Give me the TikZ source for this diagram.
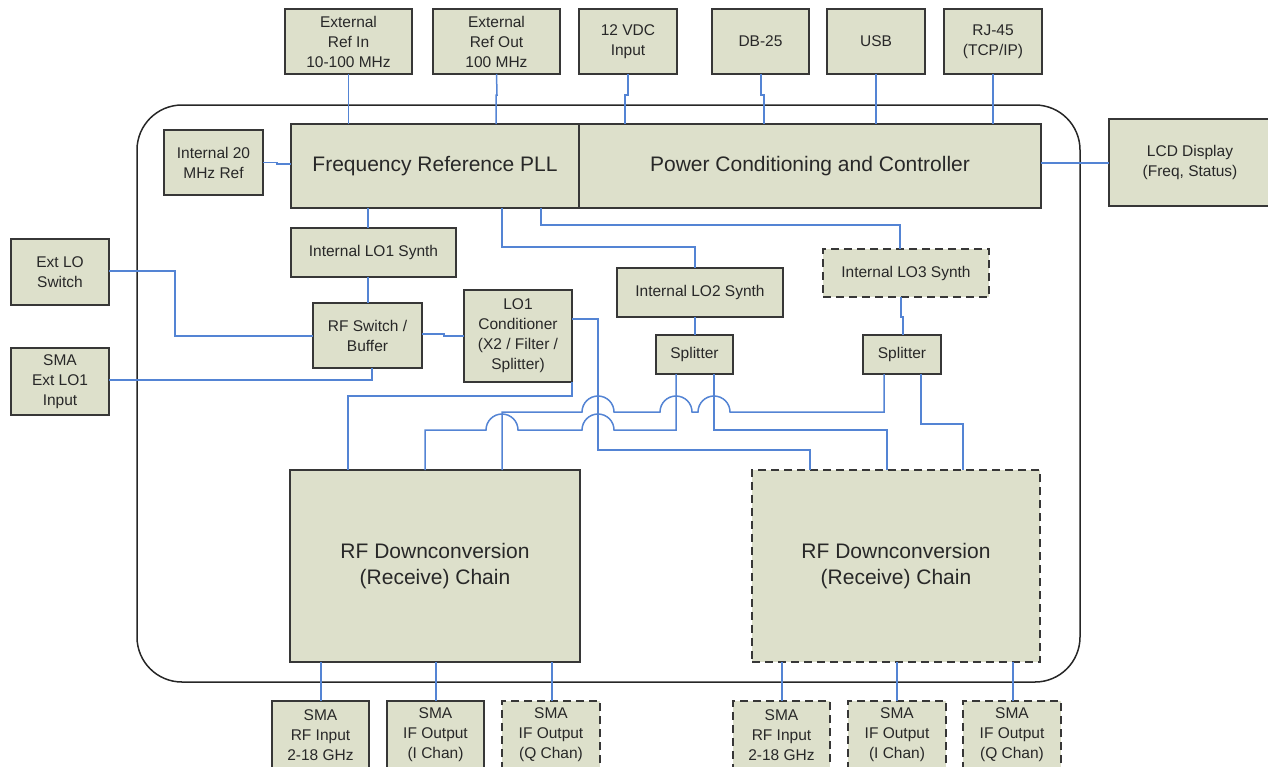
\documentclass[tikz,border=0pt]{standalone}
\usepackage{fontspec}
\setmainfont{Liberation Sans}
\definecolor{boxfill}{RGB}{221,224,203}
\definecolor{boxline}{RGB}{55,55,55}
\definecolor{wireblue}{RGB}{84,132,212}
\definecolor{txt}{RGB}{40,40,40}
\tikzset{
  blk/.style={draw=boxline, fill=boxfill, line width=2pt, inner sep=0pt, outer sep=0pt,
    align=center, text=txt, font=\fontsize{15.5}{20}\selectfont},
  bigblk/.style={blk, font=\fontsize{21}{26}\selectfont},
  dsh/.style={dash pattern=on 8pt off 5pt},
  wire/.style={draw=wireblue, line width=1.5pt},
}
\begin{document}
\begin{tikzpicture}[x=1pt,y=-1pt]
\useasboundingbox (0,0) rectangle (1268,766);
\begin{scope}
\clip (0,0) rectangle (1268,766);
% outer enclosure
\draw[line width=1.5pt, draw=black!85, rounded corners=45pt] (137,105) rectangle (1080,682);

% top connectors
\node[blk, minimum width=127, minimum height=65] (extin) at (348.5,41.5) {External\\Ref In\\10-100 MHz};
\node[blk, minimum width=127, minimum height=65] (extout) at (496.5,41.5) {External\\Ref Out\\100 MHz};
\node[blk, minimum width=98, minimum height=65] (vdc) at (628,41.5) {12 VDC\\Input};
\node[blk, minimum width=97, minimum height=65] (db) at (760.5,41.5) {DB-25};
\node[blk, minimum width=98, minimum height=65] (usb) at (876,41.5) {USB};
\node[blk, minimum width=98, minimum height=65] (rj) at (993,41.5) {RJ-45\\(TCP/IP)};

% main blocks
\node[bigblk, minimum width=288, minimum height=84] (pll) at (435,166) {Frequency Reference PLL};
\node[bigblk, minimum width=462, minimum height=84] (pwr) at (810,166) {Power Conditioning and Controller};
\node[blk, minimum width=99, minimum height=65] (int) at (213.5,162.5) {Internal 20\\MHz Ref};
\node[blk, minimum width=162, minimum height=87] (lcd) at (1190,162.5) {LCD Display\\(Freq, Status)};

\node[blk, minimum width=165, minimum height=49] (lo1) at (373.5,252.5) {Internal LO1 Synth};
\node[blk, minimum width=109, minimum height=65] (rfsw) at (367.5,335.5) {RF Switch /\\Buffer};
\node[blk, minimum width=108, minimum height=92] (lo1c) at (518,336) {LO1\\Conditioner\\(X2 / Filter /\\Splitter)};
\node[blk, minimum width=166, minimum height=49] (lo2) at (700,292.5) {Internal LO2 Synth};
\node[blk, dsh, minimum width=166, minimum height=48] (lo3) at (906,273) {Internal LO3 Synth};
\node[blk, minimum width=77, minimum height=39] (spa) at (694.5,354.5) {Splitter};
\node[blk, minimum width=78, minimum height=39] (spb) at (902,354.5) {Splitter};

\node[blk, minimum width=98, minimum height=66] (extlo) at (60,272) {Ext LO\\Switch};
\node[blk, minimum width=98, minimum height=67] (smalo) at (60,381.5) {SMA\\Ext LO1\\Input};

\node[bigblk, minimum width=290, minimum height=192] (rfa) at (435,566) {RF Downconversion\\(Receive) Chain};
\node[bigblk, dsh, minimum width=288, minimum height=192] (rfb) at (896,566) {RF Downconversion\\(Receive) Chain};

% bottom connectors
\node[blk, minimum width=97, minimum height=68] (rfina) at (320.5,735) {SMA\\RF Input\\2-18 GHz};
\node[blk, minimum width=97, minimum height=68] (ifia) at (435.5,735) {SMA\\IF Output\\(I Chan)};
\node[blk, dsh, minimum width=98, minimum height=68] (ifqa) at (551,735) {SMA\\IF Output\\(Q Chan)};
\node[blk, dsh, minimum width=97, minimum height=68] (rfinb) at (781.5,735) {SMA\\RF Input\\2-18 GHz};
\node[blk, dsh, minimum width=98, minimum height=68] (ifib) at (897,735) {SMA\\IF Output\\(I Chan)};
\node[blk, dsh, minimum width=98, minimum height=68] (ifqb) at (1012,735) {SMA\\IF Output\\(Q Chan)};

% top wires
\draw[wire] (extin.south) -- (extin.south |- pll.north);
\draw[wire] (extout.south) -- (497,95) -- (496,95) -- (496,124);
\draw[wire] (vdc.south) -- (628,95) -- (625,95) -- (625,124);
\draw[wire] (761,74) -- (761,95) -- (764,95) -- (764,124);
\draw[wire] (usb.south) -- (usb.south |- pwr.north);
\draw[wire] (rj.south) -- (rj.south |- pwr.north);
\draw[wire] (int.east) -- (277,162.5) -- (277,164) -- (pll.west |- 0,164);
\draw[wire] (pwr.east |- 0,163) -- (lcd.west |- 0,163);

% LO distribution
\draw[wire] (368,208) -- (368,228);
\draw[wire] (368,277) -- (368,303);
\draw[wire] (502,208) -- (502,247) -- (695,247) -- (695,268);
\draw[wire] (541,208) -- (541,225) -- (900,225) -- (900,249);
\draw[wire] (901,297) -- (901,317) -- (903,317) -- (903,335);
\draw[wire] (695,317) -- (695,335);

\draw[wire] (extlo.east |- 0,271) -- (175,271) -- (175,336) -- (rfsw.west |- 0,336);
\draw[wire] (smalo.east |- 0,380) -- (372,380) -- (372,368);
\draw[wire] (rfsw.east |- 0,334) -- (444,334) -- (444,336) -- (lo1c.west |- 0,336);

\draw[wire] (572,319) -- (598,319) -- (598,450) -- (810,450) -- (810,470);
\draw[wire] (lo1c.south east) -- (572,396) -- (348,396) -- (348,470);

% crossing wires with hops
\draw[wire] (884,374) -- (884,412) -- (730,412) arc[start angle=0,end angle=180,radius=16pt]
  -- (692,412) arc[start angle=0,end angle=180,radius=16pt]
  -- (614,412) arc[start angle=0,end angle=180,radius=16pt]
  -- (502,412) -- (502,470);
\draw[wire] (676,374) -- (676,430) -- (614,430) arc[start angle=0,end angle=180,radius=16pt]
  -- (518,430) arc[start angle=0,end angle=180,radius=16pt]
  -- (425,430) -- (425,470);
\draw[wire] (714,374) -- (714,430) -- (887,430) -- (887,470);
\draw[wire] (921,374) -- (921,424) -- (963,424) -- (963,470);

% bottom wires
\draw[wire] (321,662) -- (321,701);
\draw[wire] (436,662) -- (436,701);
\draw[wire] (552,662) -- (552,701);
\draw[wire] (782,662) -- (782,701);
\draw[wire] (897,662) -- (897,701);
\draw[wire] (1013,662) -- (1013,701);
\end{scope}
\end{tikzpicture}
\end{document}
